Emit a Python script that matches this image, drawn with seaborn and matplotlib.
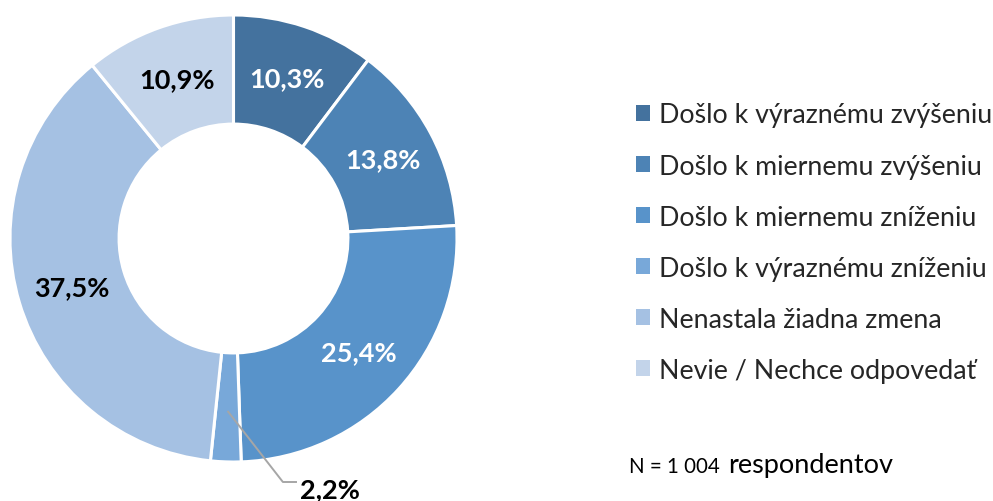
import matplotlib
matplotlib.use("Agg")
import matplotlib.pyplot as plt
import numpy as np
import seaborn as sns
from matplotlib.patches import Patch

CATEGORIES = [
    "Došlo k výraznému zvýšeniu",
    "Došlo k miernemu zvýšeniu",
    "Došlo k miernemu zníženiu",
    "Došlo k výraznému zníženiu",
    "Nenastala žiadna zmena",
    "Nevie / Nechce odpovedať",
]
SHARES = [10.3, 13.8, 25.4, 2.2, 37.5, 10.9]
LABELS = ["10,3%", "13,8%", "25,4%", "2,2%", "37,5%", "10,9%"]
COLORS = ["#44729E", "#4D83B5", "#5893CA", "#78A8D9", "#A5C1E3", "#C3D4EA"]
LABEL_COLORS = ["white", "white", "white", "black", "black", "black"]
N_TEXT = "N = 1 004"
N_UNIT = "respondentov"

sns.set_theme(style="white")
plt.rcParams["font.family"] = ["Lato", "DejaVu Sans"]

W, H = 993, 502
fig = plt.figure(figsize=(W / 100, H / 100), dpi=100)

# donut: centre (233.5, 239.5) px, outer radius 223.5 px
cx, cy, r = 233.5, 239.5, 223.5
lim = 1.03
ax = fig.add_axes([(cx - r * lim) / W, (H - cy - r * lim) / H, 2 * r * lim / W, 2 * r * lim / H])

inner = 0.512
wedges, _ = ax.pie(
    SHARES,
    colors=COLORS,
    startangle=90,
    counterclock=False,
    radius=1,
    wedgeprops=dict(width=1 - inner, edgecolor="white", linewidth=2.2),
)
ax.set_xlim(-lim, lim)
ax.set_ylim(-lim, lim)
ax.set_aspect("equal")
ax.axis("off")

mid_r = (1 + inner) / 2
for w, lab, col in zip(wedges, LABELS, LABEL_COLORS):
    ang = np.deg2rad((w.theta1 + w.theta2) / 2)
    if lab == "2,2%":
        start = (0.772 * np.cos(ang), 0.772 * np.sin(ang))
        elbow = (0.221, -1.0895)
        end = (0.284, -1.0895)
        ax.plot([start[0], elbow[0], end[0]], [start[1], elbow[1], end[1]],
                color="#A6A6A6", lw=1.4, clip_on=False, solid_capstyle="butt")
        ax.text(0.296, -1.122, lab, ha="left", va="center", fontsize=19.5,
                fontweight="bold", color=col, clip_on=False)
    else:
        ax.text(mid_r * np.cos(ang), mid_r * np.sin(ang), lab, ha="center", va="center",
                fontsize=19.5, fontweight="bold", color=col)

handles = [Patch(facecolor=c, edgecolor="none") for c in COLORS]
fig.legend(
    handles, CATEGORIES,
    loc="upper left",
    bbox_to_anchor=(636 / W, 1 - 103.5 / H),
    frameon=False,
    fontsize=19.3,
    handlelength=0.52,
    handleheight=0.52,
    handletextpad=0.34,
    labelspacing=0.97,
    borderpad=0,
    borderaxespad=0,
)

fig.text(629 / W, 1 - 472.7 / H, N_TEXT, fontsize=14.8, ha="left", va="baseline", color="black")
fig.text(728 / W, 1 - 472.7 / H, N_UNIT, fontsize=19.5, ha="left", va="baseline", color="black")

fig.savefig("out.png", dpi=100, facecolor="white")
